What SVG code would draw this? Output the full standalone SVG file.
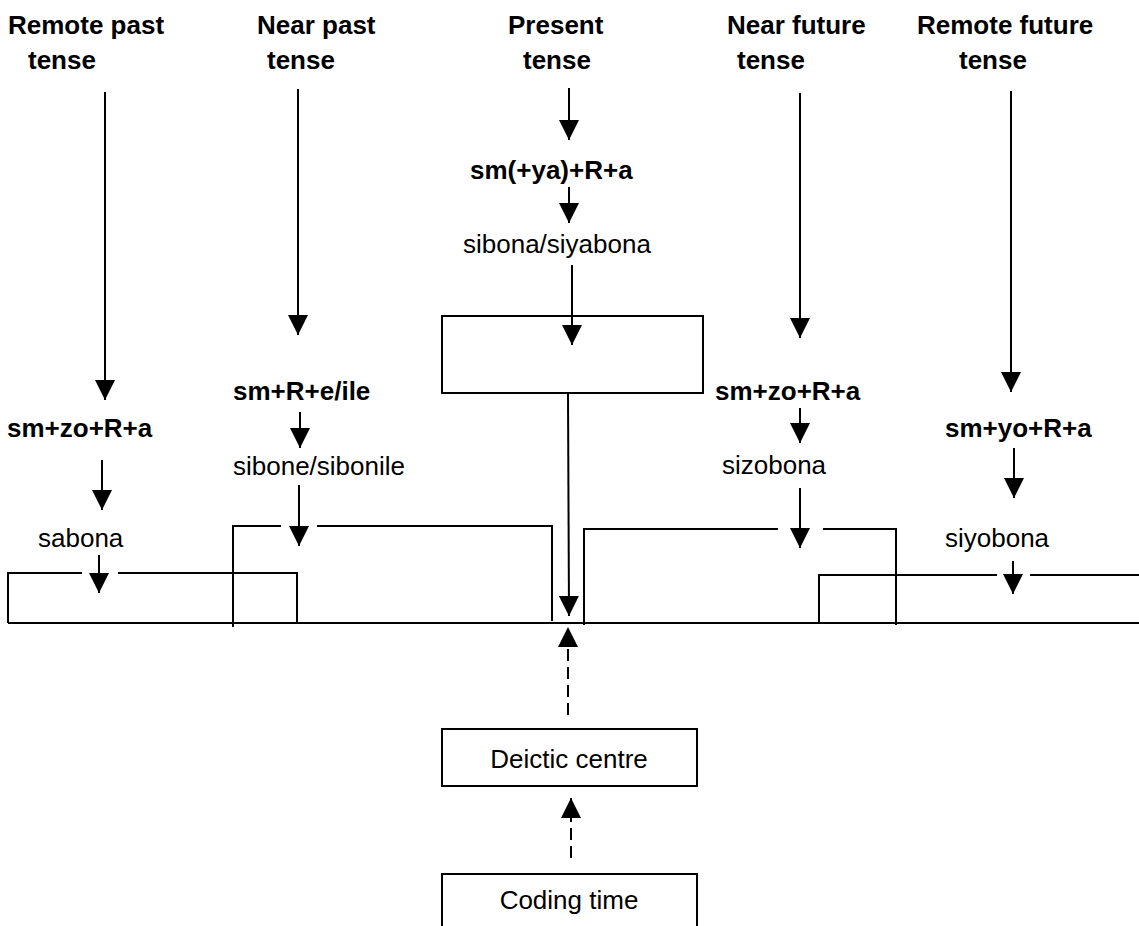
<svg xmlns="http://www.w3.org/2000/svg" width="1139" height="926" viewBox="0 0 1139 926">
<defs>
<marker id="ah" markerUnits="userSpaceOnUse" markerWidth="20" markerHeight="20" refX="20" refY="10" orient="auto" viewBox="0 0 20 20">
<path d="M0,0 L20,10 L0,20 z" fill="#000"/>
</marker>
</defs>
<style>
text{font-family:"Liberation Sans",Arial,sans-serif;font-size:26px;fill:#000}
.b{font-weight:bold}
.ln{stroke:#000;stroke-width:2;fill:none}
.ar{stroke:#000;stroke-width:2;fill:none;marker-end:url(#ah)}
.da{stroke:#000;stroke-width:2;fill:none;stroke-dasharray:12 6;marker-end:url(#ah)}
.box{stroke:#000;stroke-width:2;fill:none}
</style>
<rect width="1139" height="926" fill="#fff"/>

<g id="h-remote-past"><text class="b" x="8" y="34">Remote past</text><text class="b" x="28" y="69">tense</text></g>
<g id="h-near-past"><text class="b" x="257" y="34">Near past</text><text class="b" x="267" y="69">tense</text></g>
<g id="h-present"><text class="b" x="508" y="34">Present</text><text class="b" x="523" y="69">tense</text></g>
<g id="h-near-future"><text class="b" x="727" y="34">Near future</text><text class="b" x="737" y="69">tense</text></g>
<g id="h-remote-future"><text class="b" x="917" y="34">Remote future</text><text class="b" x="959" y="69">tense</text></g>

<g id="f-remote-past"><text class="b" x="7" y="437">sm+zo+R+a</text></g>
<g id="w-remote-past"><text x="38" y="547">sabona</text></g>
<g id="f-near-past"><text class="b" x="233" y="400">sm+R+e/ile</text></g>
<g id="w-near-past"><text x="233" y="475">sibone/sibonile</text></g>
<g id="f-present"><text class="b" x="470" y="179">sm(+ya)+R+a</text></g>
<g id="w-present"><text x="463" y="253">sibona/siyabona</text></g>
<g id="present-box"><rect class="box" x="442" y="316" width="261" height="77"/></g>
<g id="f-near-future"><text class="b" x="715" y="400">sm+zo+R+a</text></g>
<g id="w-near-future"><text x="722" y="474">sizobona</text></g>
<g id="f-remote-future"><text class="b" x="945" y="437">sm+yo+R+a</text></g>
<g id="w-remote-future"><text x="945" y="547">siyobona</text></g>

<g id="timeline">
<line class="ln" x1="8" y1="623" x2="1139" y2="623"/>
</g>
<g id="span-remote-past"><path class="ln" d="M8,623 V573 H82 M118,573 H297 V623"/></g>
<g id="span-near-past"><path class="ln" d="M233,627 V526 H281 M317,526 H552 V621"/></g>
<g id="span-near-future"><path class="ln" d="M584,625 V529 H778 M823,529 H896 V625"/></g>
<g id="span-remote-future"><path class="ln" d="M819,623 V575 H997 M1030,575 H1139"/></g>

<g id="deictic"><rect class="box" x="442" y="729" width="255" height="57"/><text x="569" y="768" text-anchor="middle">Deictic centre</text></g>
<g id="coding"><path class="box" d="M442,926 V874 H697 V926"/><text x="569" y="909" text-anchor="middle">Coding time</text></g>

<g id="connectors">
<line class="ar" x1="105" y1="92" x2="105" y2="400"/>
<line class="ar" x1="298" y1="89" x2="298" y2="335"/>
<line class="ar" x1="569" y1="88" x2="569" y2="140"/>
<line class="ar" x1="800" y1="93" x2="800" y2="338"/>
<line class="ar" x1="1011" y1="91" x2="1011" y2="392"/>
<line class="ar" x1="102" y1="460" x2="102" y2="510"/>
<line class="ar" x1="99" y1="555" x2="99" y2="593"/>
<line class="ar" x1="300" y1="412" x2="300" y2="448"/>
<line class="ar" x1="299" y1="485" x2="299" y2="546"/>
<line class="ar" x1="569" y1="187" x2="569" y2="223"/>
<line class="ar" x1="572" y1="265" x2="572" y2="345"/>
<line class="ar" x1="568" y1="393" x2="569" y2="616"/>
<line class="ar" x1="800" y1="408" x2="800" y2="443"/>
<line class="ar" x1="800" y1="488" x2="800" y2="548"/>
<line class="ar" x1="1014" y1="448" x2="1014" y2="498"/>
<line class="ar" x1="1013" y1="561" x2="1013" y2="594"/>
<line class="da" x1="568" y1="715" x2="568" y2="627"/>
<line class="da" x1="571" y1="858" x2="571" y2="798"/>
</g>
</svg>
